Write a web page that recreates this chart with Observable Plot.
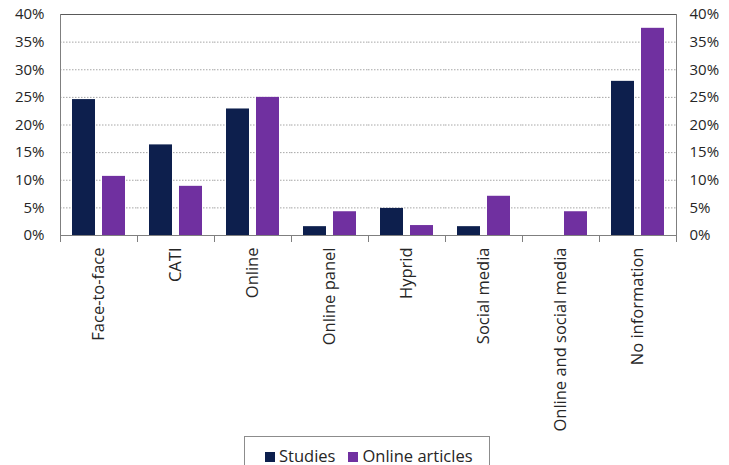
<!DOCTYPE html>
<html>
<head>
<meta charset="utf-8">
<script src="https://cdn.jsdelivr.net/npm/d3@7"></script>
<script src="https://cdn.jsdelivr.net/npm/@observablehq/plot@0.6"></script>
<style>
  html, body { margin: 0; padding: 0; background: #fff; }
  #wrap { position: relative; width: 729px; height: 465px; overflow: hidden; font-family: "Open Sans", sans-serif; color: #262626; }
  #chart svg { display: block; }
  #legend { position: absolute; left: 244px; top: 436px; width: 246px; height: 34px; box-sizing: border-box;
            border: 1px solid #8c8c8c; display: flex; align-items: flex-start; padding-left: 20px; padding-top: 10.5px; font-size: 16.5px; line-height: 16px; }
  .item { display: flex; align-items: center; margin-right: 13px; }
  .sw { width: 10px; height: 10px; margin-right: 4px; margin-top: 2px; }
</style>
</head>
<body>
<div id="wrap">
  <div id="chart"></div>
  <div id="legend"></div>
</div>
<script>
const categories = ["Face-to-face", "CATI", "Online", "Online panel", "Hyprid", "Social media", "Online and social media", "No information"];
const seriesNames = ["Studies", "Online articles"];
const studies = [0.246, 0.164, 0.229, 0.016, 0.049, 0.016, 0.0, 0.279];
const articles = [0.107, 0.089, 0.250, 0.043, 0.018, 0.071, 0.043, 0.375];
const colors = ["#0d1f4d", "#7030a0"];
const yTicks = [0, 0.05, 0.10, 0.15, 0.20, 0.25, 0.30, 0.35, 0.40];
const yGrid = [0.05, 0.10, 0.15, 0.20, 0.25, 0.30, 0.35];

const data = [];
categories.forEach((c, i) => {
  data.push({category: c, series: seriesNames[0], value: studies[i]});
  data.push({category: c, series: seriesNames[1], value: articles[i]});
});

const W = 729, H = 436, mT = 14, mB = 201, mL = 58, mR = 52;
const plotH = H - mT - mB;
const fmt = d3.format(".0%");

const chart = Plot.plot({
  width: W, height: H,
  marginTop: mT, marginBottom: mB, marginLeft: mL, marginRight: mR,
  style: {fontFamily: "Open Sans", fontSize: "15px", color: "#262626", background: "#fff"},
  fx: {domain: categories, padding: 0},
  x: {domain: seriesNames, paddingInner: 0.22, paddingOuter: 0.39, axis: null},
  y: {domain: [0, 0.4]},
  color: {domain: seriesNames, range: colors},
  marks: [
    Plot.gridY(yGrid, {stroke: "#a6a6a6", strokeOpacity: 1, strokeDasharray: "1.5,1.5"}),
    Plot.barY(data, {fx: "category", x: "series", y: "value", fill: "series"}),
    Plot.ruleY([0], {stroke: "#7f7f7f", strokeWidth: 1}),
    Plot.frame({anchor: "top", stroke: "#595959"}),
    Plot.frame({anchor: "left", facetAnchor: "left", stroke: "#7f7f7f"}),
    Plot.frame({anchor: "right", facetAnchor: "right", stroke: "#7f7f7f"}),
    Plot.frame({anchor: "left", stroke: "#7f7f7f", insetTop: plotH, insetBottom: -6}),
    Plot.frame({anchor: "right", facetAnchor: "right", stroke: "#7f7f7f", insetTop: plotH, insetBottom: -6}),
    Plot.axisY(yTicks, {anchor: "left", tickSize: 0, tickPadding: 16, tickFormat: fmt, label: null}),
    Plot.axisY(yTicks, {anchor: "right", tickSize: 0, tickPadding: 13, tickFormat: fmt, label: null}),
    Plot.axisFx({anchor: "bottom", tickRotate: -90, tickSize: 0, tickPadding: 12, label: null, fontSize: 16.5})
  ]
});
document.getElementById("chart").appendChild(chart);

const legend = document.getElementById("legend");
seriesNames.forEach((s, i) => {
  const it = document.createElement("div");
  it.className = "item";
  const sw = document.createElement("span");
  sw.className = "sw";
  sw.style.background = colors[i];
  const t = document.createElement("span");
  t.textContent = s;
  it.appendChild(sw); it.appendChild(t);
  legend.appendChild(it);
});
</script>
</body>
</html>
